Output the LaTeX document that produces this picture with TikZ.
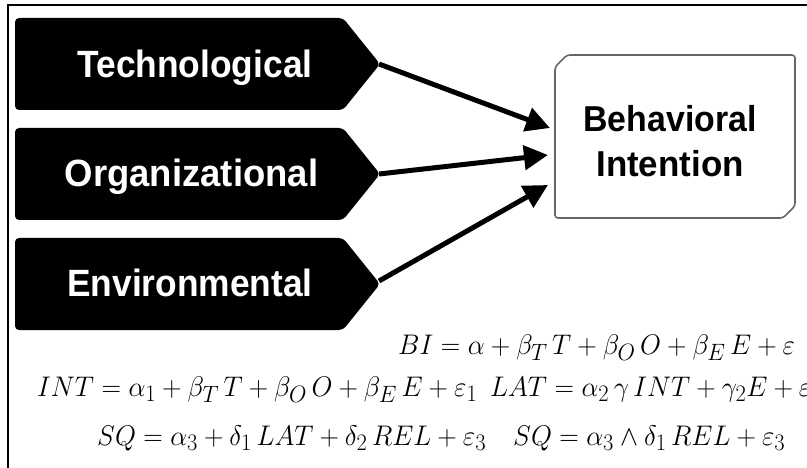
\documentclass[tikz,border=0pt]{standalone}
\usepackage{fontspec}
\setsansfont{Liberation Sans}
\usetikzlibrary{arrows.meta,calc}
\newcommand{\eqtext}[1]{\scalebox{1.085}[1.14]{\Huge$#1$}}

\begin{document}
\begin{tikzpicture}[x=1pt,y=-1pt,
  chevron/.style={fill=black, rounded corners=4pt},
  factor/.style={text=white, anchor=base, inner sep=0pt,
    font=\sffamily\bfseries\fontsize{38}{40}\selectfont},
  bitext/.style={inner sep=0pt, align=center,
    font=\sffamily\bfseries\fontsize{36}{45}\selectfont},
  boxline/.style={line width=1.6pt, draw=black!60, rounded corners=3pt},
  link/.style={line width=5pt, -{Triangle[length=24pt,width=24pt]}},
  eq/.style={anchor=base west, inner sep=0pt}
]
\clip (0,0) rectangle (807,468);

% outer frame (top and left edges)
\draw[line width=2.5pt] (8,468) -- (8,5) -- (807,5);

% factor chevrons
\fill[chevron] (15,18) -- (343,18) -- (380,64) -- (343,110) -- (15,110) -- cycle;
\coordinate (tech-tip) at (379,64);
\node[factor] (tech) at (195,78) {\scalebox{0.93}[1]{Technological}};

\fill[chevron] (15,128) -- (343,128) -- (380,174) -- (343,220) -- (15,220) -- cycle;
\coordinate (org-tip) at (379,174);
\node[factor] (org) at (191.5,187) {\scalebox{0.96}[1]{Organizational}};

\fill[chevron] (15,238) -- (343,238) -- (380,284) -- (343,330) -- (15,330) -- cycle;
\coordinate (env-tip) at (379,281);
\node[factor] (env) at (190,297) {\scalebox{0.93}[1]{Environmental}};

% outcome box with two chamfered corners
\coordinate (box-nw) at (555,55);
\coordinate (box-se) at (795,218);
\draw[boxline] ($(box-nw)+(12,0)$) -- (box-nw -| box-se)
  -- ($(box-se)+(0,-12)$) -- ($(box-se)+(-12,0)$)
  -- (box-nw |- box-se) -- ($(box-nw)+(0,12)$) -- cycle;
\node[bitext] (bi) at (670,141) {\scalebox{0.94}[1]{Behavioral}\\\scalebox{0.97}[1]{Intention}};

\coordinate (bi-in1) at (550,128);
\coordinate (bi-in2) at (548,155);
\coordinate (bi-in3) at (548,185);

\draw[link] (tech-tip) -- (bi-in1);
\draw[link] (org-tip) -- (bi-in2);
\draw[link] (env-tip) -- (bi-in3);

% model equations
\node[eq] (eq1) at (398,354) {\eqtext{BI = \alpha + \beta_T\, T + \beta_O\, O + \beta_E\, E + \varepsilon}};
\node[eq] (eq2) at (37,396) {\eqtext{INT = \alpha_1 + \beta_T\, T + \beta_O\, O + \beta_E\, E + \varepsilon_1}};
\node[eq] (eq3) at (490,396) {\eqtext{LAT = \alpha_2\, \gamma\, INT + \gamma_2 E + \varepsilon_3}};
\node[eq] (eq4) at (97,445) {\eqtext{SQ = \alpha_3 + \delta_1\, LAT + \delta_2\, REL + \varepsilon_3}};
\node[eq] (eq5) at (513,445) {\eqtext{SQ = \alpha_3 \wedge \delta_1\, REL + \varepsilon_3}};
\end{tikzpicture}
\end{document}
